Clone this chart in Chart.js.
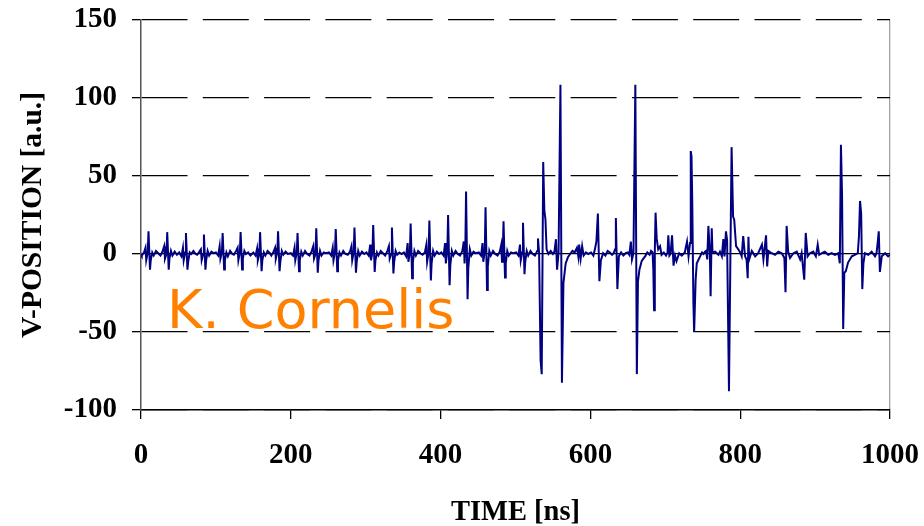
<!DOCTYPE html>
<html><head><meta charset="utf-8">
<script src="https://cdn.jsdelivr.net/npm/chart.js@4/dist/chart.umd.min.js"></script>
<style>
html,body{margin:0;padding:0;background:#fff;}
#wrap{position:relative;width:924px;height:526px;}
canvas{display:block;}
#wm{position:absolute;left:167px;top:283px;font-family:"DejaVu Sans";font-size:54px;color:#ff8000;line-height:1;white-space:nowrap;}
</style></head><body>
<div id="wrap"><canvas id="c" width="924" height="526"></canvas><div id="wm">K. Cornelis</div></div>
<script>
const X_TICKS = [0, 200, 400, 600, 800, 1000];
const Y_TICKS = [-100, -50, 0, 50, 100, 150];

const TIME_NS = [
0,
1,4,6,7,9,10,12,13,15,17,20,23,
26,29,31,32,34,35,37,38,40,42,45,48,
51,54,56,57,59,60,62,63,65,67,70,73,
75,78,80,81,83,84,86,87,89,91,94,97,
100,103,105,106,108,109,111,112,114,116,119,122,
124,127,129,130,132,133,135,136,138,140,143,146,
150,153,155,156,158,159,161,162,164,166,169,172,
174,177,179,180,182,183,185,186,188,190,193,196,
200,203,205,206,208,209,211,212,214,216,219,222,
225,228,230,231,233,234,236,237,239,241,244,247,
251,254,256,257,259,260,262,263,265,267,270,273,
276,279,281,282,284,285,287,288,290,292,295,298,
301,304,306,307,309,310,312,313,315,317,320,323,
326,329,331,332,334,335,337,338,340,342,345,348,
351,354,356,357,359,360,362,363,365,367,370,373,
376,379,381,382,384,385,387,388,390,392,395,398,
401,404,406,407,409,410,412,413,415,417,420,423,
426,429,431,432,433,434,436,437,439,441,444,447,
451,454,456,457,459,460,462,463,465,467,470,473,
476,479,481,482,483,484,486,487,489,491,494,497,
501,504,506,507,509,510,512,513,515,517,520,523,
526,529,530,531.5,533.5,535,537,538.5,540,541.5,544,547,550,552,
554,555.5,557.5,560,562,564,567,570,573,576,579,
582,584,585,587,589,591,594,597,
601,604,606,608,610,612,614,617,620,623,626,629,
631,633,634,636,638,641,644,647,650,652,654,655.5,657.5,
660,662,663.5,665.5,668.5,673,676,679,681,
683,684,685,686,687,688.5,690.5,693,695,698,701,
703,704,705.5,707,709,711,713,715,718.5,722,726,729,731,
733,734,735,736,737.5,738.5,739.5,740.5,742,744,746.5,749,751,753,
754.5,756,757.5,759.5,760.5,762,763,766.5,771,773,775.5,777.5,779,
781,782.5,785,788.5,790.5,792,794.5,797.5,800,802,
804,806.5,808.5,810,811,812,815.5,820,824,829,
831,834.5,836,837.5,842,846.5,851,855.5,859,
860.5,862,864,866.5,871,875.5,880,882,
885.5,887.5,890,893,897.5,901,903.5,905.5,909,
913,917.5,922,926.5,931,933,934.5,936,937.5,939,941,944,949,953,
957,958.5,960,961.5,963,964.5,966.5,971,975.5,980,982,983.5,
985,986.5,989,993.5,997.5,1000
];

const V_POS = [
0,
-1,1,4,-4,1,14.5,-10,-4,1,-1,2,0.5,
-1,2,5,-3,0,14,-10,-3,2,-1,1.5,-0.5,
1,-1.5,4,-4,1,13.5,-10,-5,1,0,2,0,
-0.5,1.5,3,-4,0,12.5,-10,-4,2,-1,1.5,0.5,
1,-1,5,-3,1,13.5,-10,-4,1,-1.5,2,0,
-0.5,2,4,-4,1,14,-10,-3,2,0,1,-1,
1,-1,3.5,-4,0,14,-11,-4,1,-1,2,0.5,
-1,1.5,4,-3,1,14.5,-11,-5,2,-0.5,1.5,0,
0.5,-1,4,-4,1,13.5,-11,-4,1.5,-1,2,0,
-1,2,5,-3,0,16.5,-12,-4,2,-1,1,0.5,
1,-1,4,-4,1,16,-11,-4,1,-1,2,0,
-0.5,1.5,5,-4,1,17,-12,-5,2,-1,1.5,0,
1,-1,6,-4,1,18.5,-11.5,-4,1,-1,2,0.5,
-1,2,5,-3,0,17,-12.5,-5,2,-0.5,1,0,
1,-1.5,7,-5,1,19.5,-15.5,-5,2,-1,2,0.5,
-0.5,1,6,-5,1,21.5,-17,-6,2,-1,1.5,0,
1,-1,7,-6,2,25,-20,-7,2,-1,2,0,
-1,2,8,-6,3,40,-29,-9,3,-1,1.5,0.5,
1,-1,7,-5,2,30,-23,-8,2,-1,2,0,
-1,1.5,6,-5,1,21,-15,-6,2,-1,1,0.5,
1,-1,6,-4,1,20,-13,-5,2,-1,2,0,
-1,2,10,1,-68,-77,59,28,22,3,0,2,0,1.5,
9.5,-10,1,108.5,-82.5,-18.5,-6,-2,0,2,1,
4,-2,6,-3,5,-1,1,0,
1,-1,3,8,26,-17.5,-4,0.5,-1,2,1,-0.5,
0.5,3,23,-22.5,-1.5,1,-1,0.5,1,-0.5,8,-3.5,0.5,
108.5,-77,-17.5,-10,-4.5,-1.5,1,-0.5,2,
1,-10,-36,2,26.5,10,3,5,-0.5,1,-1,
1,12,-1,0,12,-7.5,-1,-4.5,0.5,-1,1,8,-1.5,
7,66,62.5,33,-31,-50,-50,-16.5,-6,-4,-1.5,1,0,1.5,
2,-3.5,18,0,-27,16.5,1,1.5,-0.5,1.5,-1.5,9.5,-1.5,
14.5,9,-88,68.5,24,22,5,3,1,-1.5,
11.5,-1.5,-3.5,-15.5,11,-3.5,2,-1.5,0.5,6,
-3.5,12,-8,2,0.5,-0.5,1.5,0.5,-2.5,
-24.5,18,1.5,-2.5,0.5,1.5,-3.5,0.5,
-16.5,13.5,-1.5,0.5,1.5,-1.5,6,-0.5,0.5,
1.5,-0.5,0.5,-0.5,0.5,-6,70,37,-48,-12,-11,-5.5,-1.5,-0.5,
0.5,11,34,26,-22.5,-6,0.5,-0.5,1.5,-1.5,0.5,7,
14.5,-11.5,-1.5,0.5,-1.5,-0.5
];

if (TIME_NS.length !== V_POS.length) console.error('length mismatch', TIME_NS.length, V_POS.length);

const points = TIME_NS.map((t, i) => ({x: t, y: V_POS[i]}));
const tickFont = {family: 'Liberation Serif', size: 29, weight: 'bold'};

new Chart(document.getElementById('c').getContext('2d'), {
  type: 'line',
  data: {datasets: [{data: points, borderColor: '#000080', borderWidth: 2, pointRadius: 0, fill: false, tension: 0}]},
  options: {
    responsive: false, animation: false, devicePixelRatio: 1,
    layout: {padding: {left: 0, top: 20, right: 34, bottom: 0}},
    plugins: {legend: {display: false}, tooltip: {enabled: false}},
    scales: {
      x: {
        type: 'linear', min: X_TICKS[0], max: X_TICKS[X_TICKS.length - 1],
        afterBuildTicks: s => { s.ticks = X_TICKS.map(v => ({value: v})); },
        ticks: {color: '#000', font: tickFont, padding: 19, maxRotation: 0, autoSkip: false, callback: v => String(v)},
        grid: {color: c => (c.tick && c.tick.value === 1000) ? '#a0a0a0' : 'rgba(0,0,0,0)', tickColor: '#000', tickLength: 9, lineWidth: 1.3, tickWidth: 1.3},
        border: {color: '#000', width: 1.5},
        title: {display: true, text: 'TIME [ns]', color: '#000', font: {family: 'Liberation Serif', size: 28.5, weight: 'bold'}, padding: {top: 0, bottom: -4}},
        afterFit: s => { s.height = 116; s.paddingLeft = 0; s.paddingRight = 0; }
      },
      y: {
        type: 'linear', min: Y_TICKS[0], max: Y_TICKS[Y_TICKS.length - 1],
        afterBuildTicks: s => { s.ticks = Y_TICKS.map(v => ({value: v})); },
        ticks: {color: '#000', font: tickFont, padding: 15, callback: v => String(v)},
        grid: {color: '#000', lineWidth: 1.3, tickLength: 9, tickColor: '#000', tickWidth: 1.3},
        border: {color: '#555', width: 1.5, dash: c => (c.tick && c.tick.value !== 0) ? [46, 15.3] : []},
        title: {display: true, text: 'V-POSITION [a.u.]', color: '#000', font: {family: 'Liberation Serif', size: 29.5, weight: 'bold'}, padding: {top: 15.5, bottom: 0}},
        afterFit: s => { s.width = 141; s.paddingTop = 0; s.paddingBottom = 0; }
      }
    }
  }
});
</script>
</body></html>
